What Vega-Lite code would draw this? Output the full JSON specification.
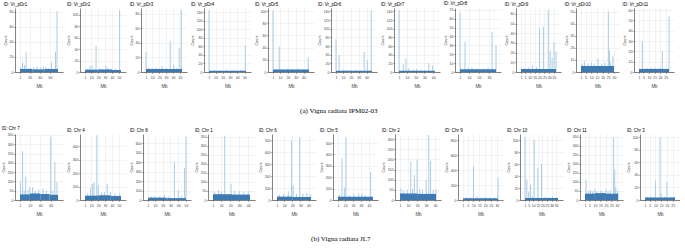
{
"$schema":"https://vega.github.io/schema/vega-lite/v6.json",
"padding":{"left":1,"top":1,"right":0,"bottom":0},
"background":"white",
"datasets":{"rows":[
{"id":"a1","kind":"s","mb":3,"count":6},{"id":"a1","kind":"s","mb":6,"count":13},{"id":"a1","kind":"s","mb":10,"count":9},{"id":"a1","kind":"s","mb":13,"count":26},{"id":"a1","kind":"s","mb":17,"count":5},{"id":"a1","kind":"s","mb":22,"count":6},{"id":"a1","kind":"s","mb":28,"count":6},{"id":"a1","kind":"s","mb":35,"count":7},{"id":"a1","kind":"s","mb":42,"count":6},{"id":"a1","kind":"s","mb":47,"count":7},{"id":"a1","kind":"s","mb":52,"count":6},{"id":"a1","kind":"s","mb":57,"count":5},{"id":"a1","kind":"s","mb":63,"count":14},{"id":"a1","kind":"s","mb":71,"count":27},{"id":"a1","kind":"s","mb":74,"count":81},
{"id":"a1","kind":"b","mb":1,"end":25,"count":4},{"id":"a1","kind":"b","mb":25,"end":50,"count":3.5},{"id":"a1","kind":"b","mb":50,"end":76,"count":4},
{"id":"a2","kind":"s","mb":5,"count":6},{"id":"a2","kind":"s","mb":8,"count":10},{"id":"a2","kind":"s","mb":11,"count":12},{"id":"a2","kind":"s","mb":14,"count":6},{"id":"a2","kind":"s","mb":17,"count":46},{"id":"a2","kind":"s","mb":22,"count":6},{"id":"a2","kind":"s","mb":27,"count":5},{"id":"a2","kind":"s","mb":31,"count":12},{"id":"a2","kind":"s","mb":34,"count":8},{"id":"a2","kind":"s","mb":40,"count":5},{"id":"a2","kind":"s","mb":45,"count":6},{"id":"a2","kind":"s","mb":51,"count":108},
{"id":"a2","kind":"b","mb":1,"end":20,"count":4},{"id":"a2","kind":"b","mb":20,"end":40,"count":4.5},{"id":"a2","kind":"b","mb":40,"end":53,"count":3.5},
{"id":"a3","kind":"s","mb":1,"count":28},{"id":"a3","kind":"s","mb":5,"count":6},{"id":"a3","kind":"s","mb":10,"count":5},{"id":"a3","kind":"s","mb":15,"count":6},{"id":"a3","kind":"s","mb":20,"count":5},{"id":"a3","kind":"s","mb":24,"count":8},{"id":"a3","kind":"s","mb":30,"count":5},{"id":"a3","kind":"s","mb":36,"count":43},{"id":"a3","kind":"s","mb":41,"count":10},{"id":"a3","kind":"s","mb":45,"count":5},{"id":"a3","kind":"s","mb":49,"count":33},{"id":"a3","kind":"s","mb":52,"count":85},
{"id":"a3","kind":"b","mb":1,"end":53,"count":4},
{"id":"a4","kind":"s","mb":1,"count":145},{"id":"a4","kind":"s","mb":8,"count":5},{"id":"a4","kind":"s","mb":15,"count":4},{"id":"a4","kind":"s","mb":25,"count":5},{"id":"a4","kind":"s","mb":35,"count":4},{"id":"a4","kind":"s","mb":45,"count":5},{"id":"a4","kind":"s","mb":51,"count":62},
{"id":"a4","kind":"b","mb":1,"end":52,"count":3},
{"id":"a5","kind":"s","mb":1,"count":100},{"id":"a5","kind":"s","mb":5,"count":5},{"id":"a5","kind":"s","mb":9,"count":42},{"id":"a5","kind":"s","mb":14,"count":5},{"id":"a5","kind":"s","mb":20,"count":6},{"id":"a5","kind":"s","mb":26,"count":5},{"id":"a5","kind":"s","mb":33,"count":6},{"id":"a5","kind":"s","mb":39,"count":5},{"id":"a5","kind":"s","mb":46,"count":24},
{"id":"a5","kind":"b","mb":1,"end":47,"count":4},
{"id":"a6","kind":"s","mb":1,"count":76},{"id":"a6","kind":"s","mb":5,"count":40},{"id":"a6","kind":"s","mb":10,"count":5},{"id":"a6","kind":"s","mb":15,"count":4},{"id":"a6","kind":"s","mb":20,"count":5},{"id":"a6","kind":"s","mb":27,"count":6},{"id":"a6","kind":"s","mb":32,"count":4},{"id":"a6","kind":"s","mb":37,"count":47},{"id":"a6","kind":"s","mb":41,"count":28},{"id":"a6","kind":"s","mb":46,"count":142},
{"id":"a6","kind":"b","mb":1,"end":47,"count":3},
{"id":"a7","kind":"s","mb":1,"count":142},{"id":"a7","kind":"s","mb":6,"count":18},{"id":"a7","kind":"s","mb":9,"count":32},{"id":"a7","kind":"s","mb":12,"count":8},{"id":"a7","kind":"s","mb":18,"count":5},{"id":"a7","kind":"s","mb":21,"count":7},{"id":"a7","kind":"s","mb":26,"count":5},{"id":"a7","kind":"s","mb":30,"count":4},{"id":"a7","kind":"s","mb":35,"count":20},{"id":"a7","kind":"s","mb":39,"count":15},
{"id":"a7","kind":"b","mb":1,"end":42,"count":3},
{"id":"a8","kind":"s","mb":1,"count":67},{"id":"a8","kind":"s","mb":6,"count":34},{"id":"a8","kind":"s","mb":9,"count":5},{"id":"a8","kind":"s","mb":13,"count":5},{"id":"a8","kind":"s","mb":18,"count":4},{"id":"a8","kind":"s","mb":25,"count":4},{"id":"a8","kind":"s","mb":29,"count":5},{"id":"a8","kind":"s","mb":33,"count":45},{"id":"a8","kind":"s","mb":37,"count":30},
{"id":"a8","kind":"b","mb":1,"end":37,"count":3},
{"id":"a9","kind":"s","mb":5,"count":4},{"id":"a9","kind":"s","mb":9,"count":5},{"id":"a9","kind":"s","mb":13,"count":7},{"id":"a9","kind":"s","mb":17,"count":5},{"id":"a9","kind":"s","mb":20,"count":45},{"id":"a9","kind":"s","mb":24,"count":47},{"id":"a9","kind":"s","mb":29,"count":64},{"id":"a9","kind":"s","mb":31,"count":22},{"id":"a9","kind":"s","mb":33,"count":15},{"id":"a9","kind":"s","mb":35,"count":31},{"id":"a9","kind":"s","mb":37,"count":21},
{"id":"a9","kind":"b","mb":1,"end":37,"count":3},
{"id":"a10","kind":"s","mb":2,"count":7},{"id":"a10","kind":"s","mb":4,"count":9},{"id":"a10","kind":"s","mb":7,"count":7},{"id":"a10","kind":"s","mb":10,"count":8},{"id":"a10","kind":"s","mb":13,"count":7},{"id":"a10","kind":"s","mb":16,"count":11},{"id":"a10","kind":"s","mb":19,"count":7},{"id":"a10","kind":"s","mb":22,"count":8},{"id":"a10","kind":"s","mb":25,"count":50},{"id":"a10","kind":"s","mb":26,"count":18},{"id":"a10","kind":"s","mb":27,"count":8},{"id":"a10","kind":"s","mb":29,"count":13},
{"id":"a10","kind":"b","mb":1,"end":30,"count":5},
{"id":"a11","kind":"s","mb":4,"count":30},{"id":"a11","kind":"s","mb":8,"count":4},{"id":"a11","kind":"s","mb":12,"count":4},{"id":"a11","kind":"s","mb":16,"count":4},{"id":"a11","kind":"s","mb":20,"count":4},{"id":"a11","kind":"s","mb":22,"count":20},{"id":"a11","kind":"s","mb":28,"count":54},
{"id":"a11","kind":"b","mb":1,"end":28,"count":3},
{"id":"b1","kind":"s","mb":2,"count":95},{"id":"b1","kind":"s","mb":6,"count":262},{"id":"b1","kind":"s","mb":9,"count":50},{"id":"b1","kind":"s","mb":12,"count":125},{"id":"b1","kind":"s","mb":16,"count":55},{"id":"b1","kind":"s","mb":20,"count":70},{"id":"b1","kind":"s","mb":25,"count":68},{"id":"b1","kind":"s","mb":30,"count":50},{"id":"b1","kind":"s","mb":37,"count":55},{"id":"b1","kind":"s","mb":45,"count":60},{"id":"b1","kind":"s","mb":52,"count":48},{"id":"b1","kind":"s","mb":60,"count":340},{"id":"b1","kind":"s","mb":64,"count":50},{"id":"b1","kind":"s","mb":68,"count":205},{"id":"b1","kind":"s","mb":72,"count":95},
{"id":"b1","kind":"b","mb":1,"end":20,"count":30},{"id":"b1","kind":"b","mb":20,"end":40,"count":35},{"id":"b1","kind":"b","mb":40,"end":58,"count":32},{"id":"b1","kind":"b","mb":58,"end":74,"count":28},
{"id":"b2","kind":"s","mb":5,"count":50},{"id":"b2","kind":"s","mb":9,"count":90},{"id":"b2","kind":"s","mb":12,"count":120},{"id":"b2","kind":"s","mb":14,"count":130},{"id":"b2","kind":"s","mb":18,"count":480},{"id":"b2","kind":"s","mb":20,"count":110},{"id":"b2","kind":"s","mb":25,"count":55},{"id":"b2","kind":"s","mb":29,"count":60},{"id":"b2","kind":"s","mb":33,"count":120},{"id":"b2","kind":"s","mb":38,"count":60},{"id":"b2","kind":"s","mb":44,"count":50},{"id":"b2","kind":"s","mb":51,"count":50},
{"id":"b2","kind":"b","mb":1,"end":20,"count":32},{"id":"b2","kind":"b","mb":20,"end":38,"count":35},{"id":"b2","kind":"b","mb":38,"end":53,"count":30},
{"id":"b3","kind":"s","mb":5,"count":40},{"id":"b3","kind":"s","mb":10,"count":45},{"id":"b3","kind":"s","mb":16,"count":40},{"id":"b3","kind":"s","mb":22,"count":60},{"id":"b3","kind":"s","mb":28,"count":40},{"id":"b3","kind":"s","mb":35,"count":400},{"id":"b3","kind":"s","mb":40,"count":100},{"id":"b3","kind":"s","mb":44,"count":45},{"id":"b3","kind":"s","mb":48,"count":343},{"id":"b3","kind":"s","mb":50,"count":670},
{"id":"b3","kind":"b","mb":1,"end":25,"count":25},{"id":"b3","kind":"b","mb":25,"end":50,"count":20},
{"id":"b4","kind":"s","mb":3,"count":45},{"id":"b4","kind":"s","mb":7,"count":55},{"id":"b4","kind":"s","mb":10,"count":45},{"id":"b4","kind":"s","mb":14,"count":355},{"id":"b4","kind":"s","mb":21,"count":90},{"id":"b4","kind":"s","mb":25,"count":50},{"id":"b4","kind":"s","mb":30,"count":48},{"id":"b4","kind":"s","mb":35,"count":45},{"id":"b4","kind":"s","mb":40,"count":50},
{"id":"b4","kind":"b","mb":1,"end":22,"count":32},{"id":"b4","kind":"b","mb":22,"end":42,"count":30},
{"id":"b5","kind":"s","mb":4,"count":45},{"id":"b5","kind":"s","mb":9,"count":50},{"id":"b5","kind":"s","mb":15,"count":70},{"id":"b5","kind":"s","mb":19,"count":495},{"id":"b5","kind":"s","mb":21,"count":120},{"id":"b5","kind":"s","mb":25,"count":50},{"id":"b5","kind":"s","mb":29,"count":520},{"id":"b5","kind":"s","mb":33,"count":55},{"id":"b5","kind":"s","mb":38,"count":60},{"id":"b5","kind":"s","mb":42,"count":50},
{"id":"b5","kind":"b","mb":1,"end":20,"count":28},{"id":"b5","kind":"b","mb":20,"end":43,"count":25},
{"id":"b6","kind":"s","mb":3,"count":45},{"id":"b6","kind":"s","mb":6,"count":365},{"id":"b6","kind":"s","mb":9,"count":110},{"id":"b6","kind":"s","mb":11,"count":550},{"id":"b6","kind":"s","mb":15,"count":45},{"id":"b6","kind":"s","mb":21,"count":55},{"id":"b6","kind":"s","mb":27,"count":60},{"id":"b6","kind":"s","mb":31,"count":60},{"id":"b6","kind":"s","mb":35,"count":45},{"id":"b6","kind":"s","mb":42,"count":245},
{"id":"b6","kind":"b","mb":1,"end":45,"count":28},
{"id":"b7","kind":"s","mb":2,"count":55},{"id":"b7","kind":"s","mb":5,"count":45},{"id":"b7","kind":"s","mb":9,"count":50},{"id":"b7","kind":"s","mb":13,"count":190},{"id":"b7","kind":"s","mb":15,"count":55},{"id":"b7","kind":"s","mb":17,"count":123},{"id":"b7","kind":"s","mb":20,"count":198},{"id":"b7","kind":"s","mb":23,"count":55},{"id":"b7","kind":"s","mb":26,"count":50},{"id":"b7","kind":"s","mb":30,"count":98},{"id":"b7","kind":"s","mb":33,"count":320},{"id":"b7","kind":"s","mb":35,"count":193},{"id":"b7","kind":"s","mb":38,"count":50},{"id":"b7","kind":"s","mb":41,"count":50},
{"id":"b7","kind":"b","mb":1,"end":20,"count":32},{"id":"b7","kind":"b","mb":20,"end":41,"count":30},
{"id":"b8","kind":"s","mb":4,"count":40},{"id":"b8","kind":"s","mb":7,"count":35},{"id":"b8","kind":"s","mb":10,"count":450},{"id":"b8","kind":"s","mb":13,"count":50},{"id":"b8","kind":"s","mb":17,"count":35},{"id":"b8","kind":"s","mb":20,"count":40},{"id":"b8","kind":"s","mb":24,"count":35},{"id":"b8","kind":"s","mb":28,"count":35},{"id":"b8","kind":"s","mb":31,"count":300},
{"id":"b8","kind":"b","mb":1,"end":31,"count":25},
{"id":"b9","kind":"s","mb":1,"count":105},{"id":"b9","kind":"s","mb":3,"count":34},{"id":"b9","kind":"s","mb":5,"count":14},{"id":"b9","kind":"s","mb":7,"count":26},{"id":"b9","kind":"s","mb":9,"count":6},{"id":"b9","kind":"s","mb":11,"count":100},{"id":"b9","kind":"s","mb":15,"count":53},{"id":"b9","kind":"s","mb":19,"count":60},{"id":"b9","kind":"s","mb":23,"count":6},{"id":"b9","kind":"s","mb":27,"count":5},{"id":"b9","kind":"s","mb":31,"count":6},{"id":"b9","kind":"s","mb":35,"count":5},
{"id":"b9","kind":"b","mb":1,"end":37,"count":3.5},
{"id":"b10","kind":"s","mb":2,"count":111},{"id":"b10","kind":"s","mb":4,"count":50},{"id":"b10","kind":"s","mb":6,"count":55},{"id":"b10","kind":"s","mb":8,"count":48},{"id":"b10","kind":"s","mb":10,"count":60},{"id":"b10","kind":"s","mb":12,"count":50},{"id":"b10","kind":"s","mb":15,"count":52},{"id":"b10","kind":"s","mb":17,"count":48},{"id":"b10","kind":"s","mb":20,"count":60},{"id":"b10","kind":"s","mb":22,"count":50},{"id":"b10","kind":"s","mb":24,"count":52},{"id":"b10","kind":"s","mb":27,"count":345},{"id":"b10","kind":"s","mb":28,"count":167},{"id":"b10","kind":"s","mb":29,"count":70},{"id":"b10","kind":"s","mb":31,"count":50},
{"id":"b10","kind":"b","mb":1,"end":10,"count":35},{"id":"b10","kind":"b","mb":10,"end":20,"count":38},{"id":"b10","kind":"b","mb":20,"end":31,"count":35},
{"id":"b11","kind":"s","mb":3,"count":5},{"id":"b11","kind":"s","mb":6,"count":6},{"id":"b11","kind":"s","mb":10,"count":31},{"id":"b11","kind":"s","mb":14,"count":100},{"id":"b11","kind":"s","mb":15,"count":11},{"id":"b11","kind":"s","mb":18,"count":5},{"id":"b11","kind":"s","mb":20,"count":29},{"id":"b11","kind":"s","mb":23,"count":5},{"id":"b11","kind":"s","mb":26,"count":6},
{"id":"b11","kind":"b","mb":1,"end":27,"count":4}
]},
"data":{"name":"rows"},
"spacing":12,
"vconcat":[
{"spacing":3,
"title":{"text":"(a) Vigna radiata IPM02-03","orient":"bottom","anchor":"middle","font":"Liberation Serif","fontSize":7,"fontWeight":"normal","color":"#000","offset":19},
"hconcat":[
{"title":"ID: Vr_pDr1","width":48,"height":64,"transform":[{"filter":"datum.id=='a1'"}],
"encoding":{"x":{"field":"mb","type":"quantitative","title":"Mb","scale":{"domain":[1,76],"nice":false,"zero":false},"axis":{"values":[1,20,40,60]}},"y":{"field":"count","type":"quantitative","title":"Count","stack":null,"scale":{"domain":[0,85],"nice":false},"axis":{"values":[0,20,40,60,80]}}},
"layer":[{"transform":[{"filter":"datum.kind=='s'"}],"mark":{"type":"bar","orient":"vertical","width":1,"color":"#a9cce4"},"encoding":{}},{"transform":[{"filter":"datum.kind=='b'"}],"mark":{"type":"rect","color":"#3d7ab3"},"encoding":{"x2":{"field":"end"},"y2":{"datum":0}}}]},
{"title":"ID: Vr_pDr2","width":46,"height":64,"transform":[{"filter":"datum.id=='a2'"}],
"encoding":{"x":{"field":"mb","type":"quantitative","title":"Mb","scale":{"domain":[1,53],"nice":false,"zero":false},"axis":{"values":[1,10,20,30,40,50]}},"y":{"field":"count","type":"quantitative","title":"Count","stack":null,"scale":{"domain":[0,112],"nice":false},"axis":{"values":[0,20,40,60,80,100]}}},
"layer":[{"transform":[{"filter":"datum.kind=='s'"}],"mark":{"type":"bar","orient":"vertical","width":1,"color":"#a9cce4"},"encoding":{}},{"transform":[{"filter":"datum.kind=='b'"}],"mark":{"type":"rect","color":"#3d7ab3"},"encoding":{"x2":{"field":"end"},"y2":{"datum":0}}}]},
{"title":"ID: Vr_pDr3","width":46,"height":64,"transform":[{"filter":"datum.id=='a3'"}],
"encoding":{"x":{"field":"mb","type":"quantitative","title":"Mb","scale":{"domain":[1,53],"nice":false,"zero":false},"axis":{"values":[1,10,20,30,40,50]}},"y":{"field":"count","type":"quantitative","title":"Count","stack":null,"scale":{"domain":[0,88],"nice":false},"axis":{"values":[0,20,40,60,80]}}},
"layer":[{"transform":[{"filter":"datum.kind=='s'"}],"mark":{"type":"bar","orient":"vertical","width":1,"color":"#a9cce4"},"encoding":{}},{"transform":[{"filter":"datum.kind=='b'"}],"mark":{"type":"rect","color":"#3d7ab3"},"encoding":{"x2":{"field":"end"},"y2":{"datum":0}}}]},
{"title":"ID: Vr_pDr4","width":47,"height":64,"transform":[{"filter":"datum.id=='a4'"}],
"encoding":{"x":{"field":"mb","type":"quantitative","title":"Mb","scale":{"domain":[1,52],"nice":false,"zero":false},"axis":{"values":[1,10,20,30,40,50]}},"y":{"field":"count","type":"quantitative","title":"Count","stack":null,"scale":{"domain":[0,150],"nice":false},"axis":{"values":[0,20,40,60,80,100,120,140]}}},
"layer":[{"transform":[{"filter":"datum.kind=='s'"}],"mark":{"type":"bar","orient":"vertical","width":1,"color":"#a9cce4"},"encoding":{}},{"transform":[{"filter":"datum.kind=='b'"}],"mark":{"type":"rect","color":"#3d7ab3"},"encoding":{"x2":{"field":"end"},"y2":{"datum":0}}}]},
{"title":"ID: Vr_pDr5","width":46,"height":64,"transform":[{"filter":"datum.id=='a5'"}],
"encoding":{"x":{"field":"mb","type":"quantitative","title":"Mb","scale":{"domain":[1,47],"nice":false,"zero":false},"axis":{"values":[1,10,20,30,40]}},"y":{"field":"count","type":"quantitative","title":"Count","stack":null,"scale":{"domain":[0,105],"nice":false},"axis":{"values":[0,20,40,60,80,100]}}},
"layer":[{"transform":[{"filter":"datum.kind=='s'"}],"mark":{"type":"bar","orient":"vertical","width":1,"color":"#a9cce4"},"encoding":{}},{"transform":[{"filter":"datum.kind=='b'"}],"mark":{"type":"rect","color":"#3d7ab3"},"encoding":{"x2":{"field":"end"},"y2":{"datum":0}}}]},
{"title":"ID: Vr_pDr6","width":46,"height":64,"transform":[{"filter":"datum.id=='a6'"}],
"encoding":{"x":{"field":"mb","type":"quantitative","title":"Mb","scale":{"domain":[1,47],"nice":false,"zero":false},"axis":{"values":[1,10,20,30,40]}},"y":{"field":"count","type":"quantitative","title":"Count","stack":null,"scale":{"domain":[0,148],"nice":false},"axis":{"values":[0,20,40,60,80,100,120,140]}}},
"layer":[{"transform":[{"filter":"datum.kind=='s'"}],"mark":{"type":"bar","orient":"vertical","width":1,"color":"#a9cce4"},"encoding":{}},{"transform":[{"filter":"datum.kind=='b'"}],"mark":{"type":"rect","color":"#3d7ab3"},"encoding":{"x2":{"field":"end"},"y2":{"datum":0}}}]},
{"title":"ID: Vr_pDr7","width":46,"height":64,"transform":[{"filter":"datum.id=='a7'"}],
"encoding":{"x":{"field":"mb","type":"quantitative","title":"Mb","scale":{"domain":[1,42],"nice":false,"zero":false},"axis":{"values":[1,10,20,30,40]}},"y":{"field":"count","type":"quantitative","title":"Count","stack":null,"scale":{"domain":[0,148],"nice":false},"axis":{"values":[0,20,40,60,80,100,120,140]}}},
"layer":[{"transform":[{"filter":"datum.kind=='s'"}],"mark":{"type":"bar","orient":"vertical","width":1,"color":"#a9cce4"},"encoding":{}},{"transform":[{"filter":"datum.kind=='b'"}],"mark":{"type":"rect","color":"#3d7ab3"},"encoding":{"x2":{"field":"end"},"y2":{"datum":0}}}]},
{"title":"ID: Vr_pDr8","width":46,"height":64,"transform":[{"filter":"datum.id=='a8'"}],
"encoding":{"x":{"field":"mb","type":"quantitative","title":"Mb","scale":{"domain":[1,37],"nice":false,"zero":false},"axis":{"values":[1,10,20,30]}},"y":{"field":"count","type":"quantitative","title":"Count","stack":null,"scale":{"domain":[0,72],"nice":false},"axis":{"values":[0,10,20,30,40,50,60,70]}}},
"layer":[{"transform":[{"filter":"datum.kind=='s'"}],"mark":{"type":"bar","orient":"vertical","width":1,"color":"#a9cce4"},"encoding":{}},{"transform":[{"filter":"datum.kind=='b'"}],"mark":{"type":"rect","color":"#3d7ab3"},"encoding":{"x2":{"field":"end"},"y2":{"datum":0}}}]},
{"title":"ID: Vr_pDr9","width":45,"height":64,"transform":[{"filter":"datum.id=='a9'"}],
"encoding":{"x":{"field":"mb","type":"quantitative","title":"Mb","scale":{"domain":[1,37],"nice":false,"zero":false},"axis":{"values":[1,5,10,15,20,25,30,35]}},"y":{"field":"count","type":"quantitative","title":"Count","stack":null,"scale":{"domain":[0,66],"nice":false},"axis":{"values":[0,10,20,30,40,50,60]}}},
"layer":[{"transform":[{"filter":"datum.kind=='s'"}],"mark":{"type":"bar","orient":"vertical","width":1,"color":"#a9cce4"},"encoding":{}},{"transform":[{"filter":"datum.kind=='b'"}],"mark":{"type":"rect","color":"#3d7ab3"},"encoding":{"x2":{"field":"end"},"y2":{"datum":0}}}]},
{"title":"ID: Vr_pDr10","width":43,"height":64,"transform":[{"filter":"datum.id=='a10'"}],
"encoding":{"x":{"field":"mb","type":"quantitative","title":"Mb","scale":{"domain":[1,30],"nice":false,"zero":false},"axis":{"values":[1,5,10,15,20,25,30]}},"y":{"field":"count","type":"quantitative","title":"Count","stack":null,"scale":{"domain":[0,53],"nice":false},"axis":{"values":[0,10,20,30,40,50]}}},
"layer":[{"transform":[{"filter":"datum.kind=='s'"}],"mark":{"type":"bar","orient":"vertical","width":1,"color":"#a9cce4"},"encoding":{}},{"transform":[{"filter":"datum.kind=='b'"}],"mark":{"type":"rect","color":"#3d7ab3"},"encoding":{"x2":{"field":"end"},"y2":{"datum":0}}}]},
{"title":"ID: Vr_pDr11","width":40,"height":64,"transform":[{"filter":"datum.id=='a11'"}],
"encoding":{"x":{"field":"mb","type":"quantitative","title":"Mb","scale":{"domain":[1,28],"nice":false,"zero":false},"axis":{"values":[1,5,10,15,20,25]}},"y":{"field":"count","type":"quantitative","title":"Count","stack":null,"scale":{"domain":[0,62],"nice":false},"axis":{"values":[0,10,20,30,40,50,60]}}},
"layer":[{"transform":[{"filter":"datum.kind=='s'"}],"mark":{"type":"bar","orient":"vertical","width":1,"color":"#a9cce4"},"encoding":{}},{"transform":[{"filter":"datum.kind=='b'"}],"mark":{"type":"rect","color":"#3d7ab3"},"encoding":{"x2":{"field":"end"},"y2":{"datum":0}}}]}
]},
{"spacing":3,
"title":{"text":"(b) Vigna radiata JL7","orient":"bottom","anchor":"middle","font":"Liberation Serif","fontSize":7,"fontWeight":"normal","color":"#000","offset":19},
"hconcat":[
{"title":"ID: Chr 7","width":48,"height":66,"transform":[{"filter":"datum.id=='b1'"}],
"encoding":{"x":{"field":"mb","type":"quantitative","title":"Mb","scale":{"domain":[1,74],"nice":false,"zero":false},"axis":{"values":[1,20,40,60]}},"y":{"field":"count","type":"quantitative","title":"Count","stack":null,"scale":{"domain":[0,355],"nice":false},"axis":{"values":[0,50,100,150,200,250,300,350]}}},
"layer":[{"transform":[{"filter":"datum.kind=='s'"}],"mark":{"type":"bar","orient":"vertical","width":1,"color":"#a9cce4"},"encoding":{}},{"transform":[{"filter":"datum.kind=='b'"}],"mark":{"type":"rect","color":"#3d7ab3"},"encoding":{"x2":{"field":"end"},"y2":{"datum":0}}}]},
{"title":"ID: Chr 4","width":46,"height":66,"transform":[{"filter":"datum.id=='b2'"}],
"encoding":{"x":{"field":"mb","type":"quantitative","title":"Mb","scale":{"domain":[1,53],"nice":false,"zero":false},"axis":{"values":[1,10,20,30,40,50]}},"y":{"field":"count","type":"quantitative","title":"Count","stack":null,"scale":{"domain":[0,490],"nice":false},"axis":{"values":[0,100,200,300,400]}}},
"layer":[{"transform":[{"filter":"datum.kind=='s'"}],"mark":{"type":"bar","orient":"vertical","width":1,"color":"#a9cce4"},"encoding":{}},{"transform":[{"filter":"datum.kind=='b'"}],"mark":{"type":"rect","color":"#3d7ab3"},"encoding":{"x2":{"field":"end"},"y2":{"datum":0}}}]},
{"title":"ID: Chr 8","width":48,"height":66,"transform":[{"filter":"datum.id=='b3'"}],
"encoding":{"x":{"field":"mb","type":"quantitative","title":"Mb","scale":{"domain":[1,50],"nice":false,"zero":false},"axis":{"values":[1,10,20,30,40,50]}},"y":{"field":"count","type":"quantitative","title":"Count","stack":null,"scale":{"domain":[0,700],"nice":false},"axis":{"values":[0,100,200,300,400,500,600]}}},
"layer":[{"transform":[{"filter":"datum.kind=='s'"}],"mark":{"type":"bar","orient":"vertical","width":1,"color":"#a9cce4"},"encoding":{}},{"transform":[{"filter":"datum.kind=='b'"}],"mark":{"type":"rect","color":"#3d7ab3"},"encoding":{"x2":{"field":"end"},"y2":{"datum":0}}}]},
{"title":"ID: Chr 1","width":47,"height":66,"transform":[{"filter":"datum.id=='b4'"}],
"encoding":{"x":{"field":"mb","type":"quantitative","title":"Mb","scale":{"domain":[1,42],"nice":false,"zero":false},"axis":{"values":[1,10,20,30,40]}},"y":{"field":"count","type":"quantitative","title":"Count","stack":null,"scale":{"domain":[0,365],"nice":false},"axis":{"values":[0,50,100,150,200,250,300,350]}}},
"layer":[{"transform":[{"filter":"datum.kind=='s'"}],"mark":{"type":"bar","orient":"vertical","width":1,"color":"#a9cce4"},"encoding":{}},{"transform":[{"filter":"datum.kind=='b'"}],"mark":{"type":"rect","color":"#3d7ab3"},"encoding":{"x2":{"field":"end"},"y2":{"datum":0}}}]},
{"title":"ID: Chr 6","width":44,"height":66,"transform":[{"filter":"datum.id=='b5'"}],
"encoding":{"x":{"field":"mb","type":"quantitative","title":"Mb","scale":{"domain":[1,43],"nice":false,"zero":false},"axis":{"values":[1,10,20,30,40]}},"y":{"field":"count","type":"quantitative","title":"Count","stack":null,"scale":{"domain":[0,550],"nice":false},"axis":{"values":[0,100,200,300,400,500]}}},
"layer":[{"transform":[{"filter":"datum.kind=='s'"}],"mark":{"type":"bar","orient":"vertical","width":1,"color":"#a9cce4"},"encoding":{}},{"transform":[{"filter":"datum.kind=='b'"}],"mark":{"type":"rect","color":"#3d7ab3"},"encoding":{"x2":{"field":"end"},"y2":{"datum":0}}}]},
{"title":"ID: Chr 5","width":45,"height":66,"transform":[{"filter":"datum.id=='b6'"}],
"encoding":{"x":{"field":"mb","type":"quantitative","title":"Mb","scale":{"domain":[1,45],"nice":false,"zero":false},"axis":{"values":[1,10,20,30,40]}},"y":{"field":"count","type":"quantitative","title":"Count","stack":null,"scale":{"domain":[0,580],"nice":false},"axis":{"values":[0,100,200,300,400,500]}}},
"layer":[{"transform":[{"filter":"datum.kind=='s'"}],"mark":{"type":"bar","orient":"vertical","width":1,"color":"#a9cce4"},"encoding":{}},{"transform":[{"filter":"datum.kind=='b'"}],"mark":{"type":"rect","color":"#3d7ab3"},"encoding":{"x2":{"field":"end"},"y2":{"datum":0}}}]},
{"title":"ID: Chr 2","width":46,"height":66,"transform":[{"filter":"datum.id=='b7'"}],
"encoding":{"x":{"field":"mb","type":"quantitative","title":"Mb","scale":{"domain":[1,41],"nice":false,"zero":false},"axis":{"values":[1,10,20,30,40]}},"y":{"field":"count","type":"quantitative","title":"Count","stack":null,"scale":{"domain":[0,325],"nice":false},"axis":{"values":[0,50,100,150,200,250,300]}}},
"layer":[{"transform":[{"filter":"datum.kind=='s'"}],"mark":{"type":"bar","orient":"vertical","width":1,"color":"#a9cce4"},"encoding":{}},{"transform":[{"filter":"datum.kind=='b'"}],"mark":{"type":"rect","color":"#3d7ab3"},"encoding":{"x2":{"field":"end"},"y2":{"datum":0}}}]},
{"title":"ID: Chr 9","width":45,"height":66,"transform":[{"filter":"datum.id=='b8'"}],
"encoding":{"x":{"field":"mb","type":"quantitative","title":"Mb","scale":{"domain":[1,31],"nice":false,"zero":false},"axis":{"values":[1,5,10,15,20,25,30]}},"y":{"field":"count","type":"quantitative","title":"Count","stack":null,"scale":{"domain":[0,880],"nice":false},"axis":{"values":[0,200,400,600,800]}}},
"layer":[{"transform":[{"filter":"datum.kind=='s'"}],"mark":{"type":"bar","orient":"vertical","width":1,"color":"#a9cce4"},"encoding":{}},{"transform":[{"filter":"datum.kind=='b'"}],"mark":{"type":"rect","color":"#3d7ab3"},"encoding":{"x2":{"field":"end"},"y2":{"datum":0}}}]},
{"title":"ID: Chr 10","width":43,"height":66,"transform":[{"filter":"datum.id=='b9'"}],
"encoding":{"x":{"field":"mb","type":"quantitative","title":"Mb","scale":{"domain":[1,37],"nice":false,"zero":false},"axis":{"values":[1,5,10,15,20,25,30,35]}},"y":{"field":"count","type":"quantitative","title":"Count","stack":null,"scale":{"domain":[0,110],"nice":false},"axis":{"values":[0,20,40,60,80,100]}}},
"layer":[{"transform":[{"filter":"datum.kind=='s'"}],"mark":{"type":"bar","orient":"vertical","width":1,"color":"#a9cce4"},"encoding":{}},{"transform":[{"filter":"datum.kind=='b'"}],"mark":{"type":"rect","color":"#3d7ab3"},"encoding":{"x2":{"field":"end"},"y2":{"datum":0}}}]},
{"title":"ID: Chr 11","width":43,"height":66,"transform":[{"filter":"datum.id=='b10'"}],
"encoding":{"x":{"field":"mb","type":"quantitative","title":"Mb","scale":{"domain":[1,31],"nice":false,"zero":false},"axis":{"values":[1,5,10,15,20,25,30]}},"y":{"field":"count","type":"quantitative","title":"Count","stack":null,"scale":{"domain":[0,365],"nice":false},"axis":{"values":[0,50,100,150,200,250,300,350]}}},
"layer":[{"transform":[{"filter":"datum.kind=='s'"}],"mark":{"type":"bar","orient":"vertical","width":1,"color":"#a9cce4"},"encoding":{}},{"transform":[{"filter":"datum.kind=='b'"}],"mark":{"type":"rect","color":"#3d7ab3"},"encoding":{"x2":{"field":"end"},"y2":{"datum":0}}}]},
{"title":"ID: Chr 3","width":40,"height":66,"transform":[{"filter":"datum.id=='b11'"}],
"encoding":{"x":{"field":"mb","type":"quantitative","title":"Mb","scale":{"domain":[1,27],"nice":false,"zero":false},"axis":{"values":[1,5,10,15,20,25]}},"y":{"field":"count","type":"quantitative","title":"Count","stack":null,"scale":{"domain":[0,105],"nice":false},"axis":{"values":[0,20,40,60,80,100]}}},
"layer":[{"transform":[{"filter":"datum.kind=='s'"}],"mark":{"type":"bar","orient":"vertical","width":1,"color":"#a9cce4"},"encoding":{}},{"transform":[{"filter":"datum.kind=='b'"}],"mark":{"type":"rect","color":"#3d7ab3"},"encoding":{"x2":{"field":"end"},"y2":{"datum":0}}}]}
]}
],
"config":{
"font":"Liberation Sans",
"view":{"stroke":null},
"axis":{"labelFontSize":3.5,"titleFontSize":3.8,"labelColor":"#444","titleColor":"#333","titleFontWeight":"normal","tickSize":1.5,"labelPadding":0.5,"titlePadding":1.5,"gridColor":"#e6e6e6","gridWidth":0.5,"domainColor":"#333","domainWidth":0.6,"tickColor":"#333","tickWidth":0.4},
"axisX":{"titleFontSize":4.5,"titleColor":"#444","labelPadding":2,"titlePadding":4,"labelAngle":0},
"title":{"fontSize":4.5,"fontWeight":"normal","anchor":"start","offset":2,"color":"#000"}
}
}
